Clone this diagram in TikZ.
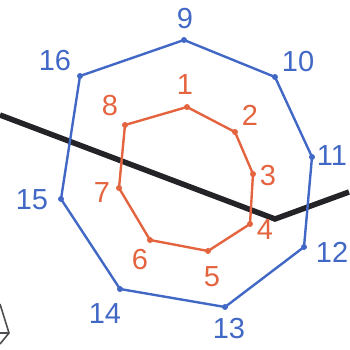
\documentclass[tikz,border=0pt]{standalone}
\usepackage{fontspec}
\setmainfont{Liberation Sans}
\definecolor{outerblue}{RGB}{66,104,198}
\definecolor{innerred}{RGB}{228,100,64}
\definecolor{pathgray}{RGB}{35,35,40}
\tikzset{
  vtx/.style={
    inner sep = 0pt,
    shape = circle,
    minimum size = 6pt,
    fill
  },
  num/.style={
    inner sep = 0pt,
    font = \fontsize{29}{29}\selectfont
  },
  edge/.style={
    line width = 2.4pt,
    line join = round
  }
}
\begin{document}
\begin{tikzpicture}[x=1pt,y=-1pt]
  \useasboundingbox (0,0) rectangle (349,350);
  % thick path
  \coordinate (w) at (0,115);
  \coordinate (k) at (275,219);
  \coordinate (e) at (349,192);
  \draw[pathgray, line width=5.5pt, line join=miter] (w)--(k)--(e);
  % partial shape, lower left
  \coordinate (s1) at (0,304);
  \coordinate (s2) at (9,333);
  \coordinate (s3) at (0,344);
  \coordinate (s4) at (0,333);
  \draw[pathgray!80, line width=1.6pt] (s1)--(s2)--(s3);
  \draw[pathgray!80, line width=1.6pt] (s4)--(s2);
  % outer octagon
  \node[vtx,outerblue] (b9) at (184,40) {};
  \node[vtx,outerblue] (b10) at (275,77) {};
  \node[vtx,outerblue] (b11) at (312,157) {};
  \node[vtx,outerblue] (b12) at (304,247) {};
  \node[vtx,outerblue] (b13) at (225,307) {};
  \node[vtx,outerblue] (b14) at (120,289) {};
  \node[vtx,outerblue] (b15) at (61,199) {};
  \node[vtx,outerblue] (b16) at (80,76) {};
  \draw[edge,outerblue] (b9.center)--(b10.center)--(b11.center)--(b12.center)
    --(b13.center)--(b14.center)--(b15.center)--(b16.center)--cycle;
  \node[num,outerblue] (l9) at (185,19) {9};
  \node[num,outerblue] (l10) at (298,62) {10};
  \node[num,outerblue] (l11) at (332,156) {11};
  \node[num,outerblue] (l12) at (332,252) {12};
  \node[num,outerblue] (l13) at (229,329) {13};
  \node[num,outerblue] (l14) at (105,314) {14};
  \node[num,outerblue] (l15) at (32,200) {15};
  \node[num,outerblue] (l16) at (55,61) {16};
  % inner octagon
  \node[vtx,innerred] (r1) at (187,107) {};
  \node[vtx,innerred] (r2) at (235,132) {};
  \node[vtx,innerred] (r3) at (253,174) {};
  \node[vtx,innerred] (r4) at (250,224) {};
  \node[vtx,innerred] (r5) at (208,251) {};
  \node[vtx,innerred] (r6) at (150,240) {};
  \node[vtx,innerred] (r7) at (119,188) {};
  \node[vtx,innerred] (r8) at (125,125) {};
  \draw[edge,innerred] (r1.center)--(r2.center)--(r3.center)--(r4.center)
    --(r5.center)--(r6.center)--(r7.center)--(r8.center)--cycle;
  \node[num,innerred] (l1) at (185,85) {1};
  \node[num,innerred] (l2) at (250,115) {2};
  \node[num,innerred] (l3) at (268,176) {3};
  \node[num,innerred] (l4) at (265,230) {4};
  \node[num,innerred] (l5) at (212,277) {5};
  \node[num,innerred] (l6) at (140,260) {6};
  \node[num,innerred] (l7) at (102,193) {7};
  \node[num,innerred] (l8) at (110,106) {8};
\end{tikzpicture}
\end{document}
